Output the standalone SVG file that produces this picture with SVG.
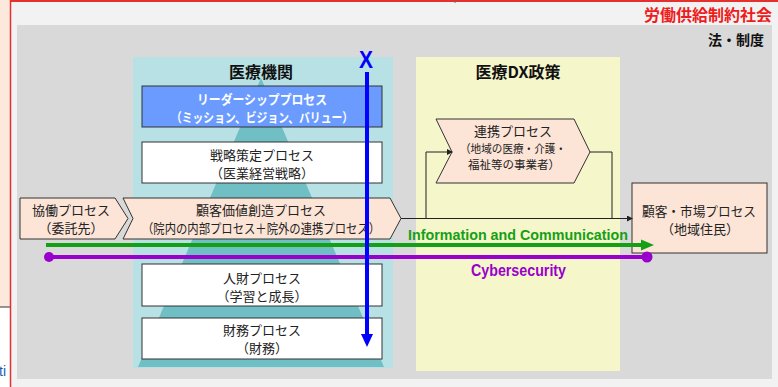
<svg xmlns="http://www.w3.org/2000/svg" width="778" height="387" viewBox="0 0 778 387">
<style>
.jp{font-family:"Noto Sans CJK JP","Noto Sans",sans-serif;}
.box{fill:#ffffff;stroke:#333333;stroke-width:1;}
.peach{fill:#fce4d6;stroke:#333333;stroke-width:1;}
.t{font-size:13px;fill:#222222;text-anchor:middle;}
.ts{font-size:11.5px;fill:#222222;text-anchor:middle;}
.hd{font-size:16px;font-weight:bold;fill:#111111;text-anchor:middle;}
.conn{fill:none;stroke:#222222;stroke-width:1;}
.en{font-family:"Liberation Sans",Arial,sans-serif;font-weight:bold;}
</style>
<defs>
<marker id="ah" markerWidth="6" markerHeight="6" refX="5" refY="3" orient="auto" markerUnits="userSpaceOnUse">
<path d="M0,0 L6,3 L0,6 Z" fill="#222222"/>
</marker>
</defs>

<!-- page background -->
<rect x="0" y="0" width="778" height="387" fill="#f2f2f2"/>
<rect x="0" y="0" width="10" height="307" fill="#fde9dc"/>
<rect x="0" y="307" width="10" height="80" fill="#ffffff"/>
<line x1="0" y1="307" x2="10" y2="307" stroke="#333333" stroke-width="1"/>
<text x="-1" y="376" font-family="Liberation Sans,Arial,sans-serif" font-size="14" fill="#1a5cb0">ti</text>
<line x1="10.5" y1="0" x2="10.5" y2="387" stroke="#e53030" stroke-width="1.5"/>
<line x1="10" y1="1" x2="778" y2="1" stroke="#e53030" stroke-width="2"/>
<line x1="455" y1="0" x2="455" y2="3" stroke="#666666" stroke-width="1"/>

<!-- gray panel -->
<rect x="17" y="25" width="755" height="354" fill="#d9d9d9"/>
<text class="jp" x="772" y="21" font-size="16" font-weight="bold" fill="#ee1c1c" text-anchor="end">労働供給制約社会</text>
<text class="jp" x="764" y="45" font-size="14" font-weight="bold" fill="#111111" text-anchor="end">法・制度</text>

<!-- medical institution panel -->
<g id="iryo-kikan">
<rect x="133" y="57" width="260" height="311" fill="#b7e1e4"/>
<polygon points="261,78 138,367 384,367" fill="#6fbfc5"/>
<text class="jp hd" x="261" y="78">医療機関</text>
</g>

<!-- DX panel -->
<g id="iryo-dx">
<rect x="416" y="57" width="204" height="314" fill="#f6f6cb"/>
<text class="jp hd" x="518" y="78">医療DX政策</text>
</g>

<g id="leadership">
<rect x="142" y="86" width="240" height="41" fill="#6b9bff" stroke="#333333" stroke-width="1"/>
<text class="jp" x="262" y="104" font-size="13" font-weight="bold" fill="#ffffff" text-anchor="middle" textLength="130" lengthAdjust="spacingAndGlyphs">リーダーシッププロセス</text>
<text class="jp" x="262" y="122" font-size="13" font-weight="bold" fill="#ffffff" text-anchor="middle" textLength="182" lengthAdjust="spacingAndGlyphs">（ミッション、ビジョン、バリュー）</text>
</g>

<g id="senryaku">
<rect class="box" x="142" y="142" width="240" height="41"/>
<text class="jp t" x="262" y="160">戦略策定プロセス</text>
<text class="jp t" x="262" y="178">（医業経営戦略）</text>
</g>

<g id="kyodo">
<polygon class="peach" points="20,198 115,198 128,218.5 115,239 20,239"/>
<text class="jp t" x="71" y="215">協働プロセス</text>
<text class="jp t" x="71" y="233">（委託先）</text>
</g>

<g id="kokyaku-kachi">
<polygon class="peach" points="123,198 390,198 401,218.5 390,239 123,239 133,218.5"/>
<text class="jp t" x="261" y="215">顧客価値創造プロセス</text>
<text class="jp t" x="261" y="233" textLength="238" lengthAdjust="spacingAndGlyphs">（院内の内部プロセス＋院外の連携プロセス）</text>
</g>

<g id="jinzai">
<rect class="box" x="142" y="264" width="240" height="42"/>
<text class="jp t" x="262" y="283">人財プロセス</text>
<text class="jp t" x="262" y="301">（学習と成長）</text>
</g>

<g id="zaimu">
<rect class="box" x="142" y="318" width="240" height="41"/>
<text class="jp t" x="262" y="335">財務プロセス</text>
<text class="jp t" x="262" y="353">（財務）</text>
</g>

<g id="renkei">
<polygon class="peach" points="436,119 574,119 590,152 574,183 436,183 452,152"/>
<text class="jp t" x="513" y="136">連携プロセス</text>
<text class="jp ts" x="513" y="153" textLength="106" lengthAdjust="spacingAndGlyphs">（地域の医療・介護・</text>
<text class="jp ts" x="514" y="169">福祉等の事業者）</text>
</g>

<g id="kokyaku-shijo">
<rect class="peach" x="632" y="183" width="135" height="70"/>
<text class="jp t" x="699" y="216" textLength="114" lengthAdjust="spacingAndGlyphs">顧客・市場プロセス</text>
<text class="jp t" x="700" y="234">（地域住民）</text>
</g>

<!-- connectors -->
<g id="connectors">
<line class="conn" x1="401" y1="218.5" x2="632" y2="218.5" marker-end="url(#ah)"/>
<polyline class="conn" points="426,218.5 426,152 452,152" marker-end="url(#ah)"/>
<polyline class="conn" points="590,152 612,152 612,218.5"/>

<!-- information and communication -->
<line x1="46" y1="245" x2="643" y2="245" stroke="#14a014" stroke-width="4"/>
<polygon points="641,239.5 654,245 641,250.5" fill="#14a014"/>
<text class="en" x="408" y="240" font-size="15.5" fill="#14a014" textLength="220" lengthAdjust="spacingAndGlyphs">Information and Communication</text>

<!-- cybersecurity -->
<line x1="49" y1="257" x2="647" y2="257" stroke="#9900cc" stroke-width="4"/>
<circle cx="49" cy="257" r="5" fill="#9900cc"/>
<circle cx="647" cy="257" r="5.5" fill="#9900cc"/>
<text class="en" x="471" y="276" font-size="16" fill="#9900cc" textLength="95" lengthAdjust="spacingAndGlyphs">Cybersecurity</text>

<!-- X arrow -->
<line x1="367" y1="72" x2="367" y2="336" stroke="#0000ff" stroke-width="4"/>
<polygon points="361,334 373,334 367,347" fill="#0000ff"/>
<text class="en" x="366" y="68" font-size="24" fill="#0000ff" text-anchor="middle" textLength="14" lengthAdjust="spacingAndGlyphs">X</text>
</g>
</svg>
